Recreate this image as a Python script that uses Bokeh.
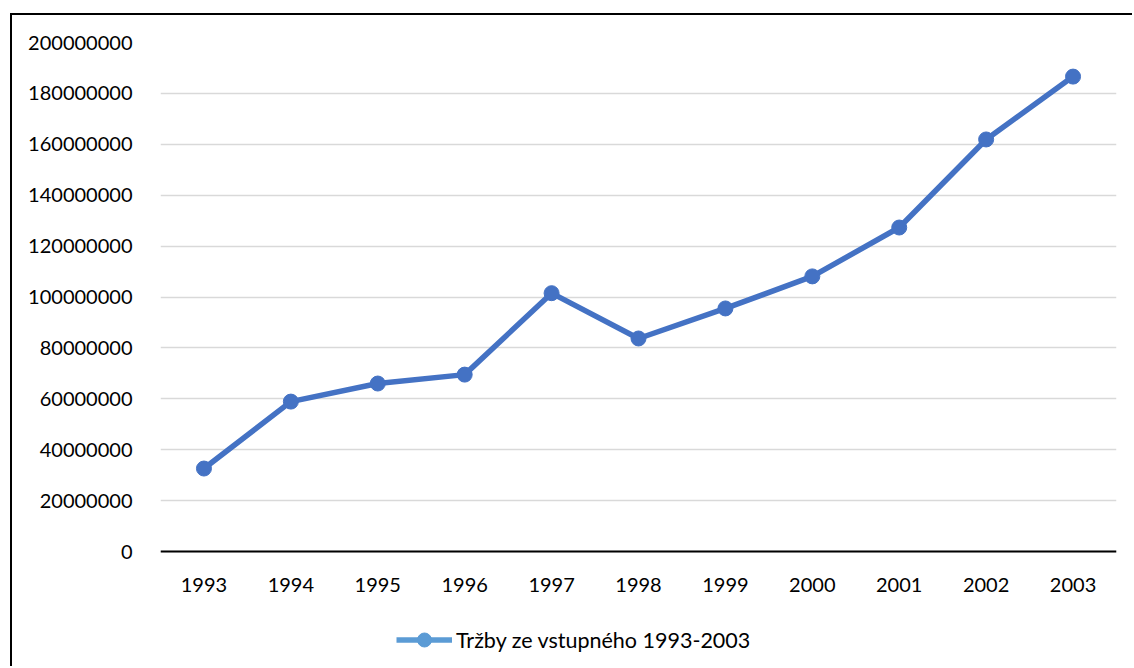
from bokeh.plotting import figure
from bokeh.models import (ColumnDataSource, FactorRange, Range1d, FixedTicker,
                          Legend, LegendItem)
from bokeh.embed import file_html
from bokeh.resources import INLINE

years = ["1993", "1994", "1995", "1996", "1997", "1998", "1999", "2000", "2001", "2002", "2003"]
sales = [32600000, 58900000, 66000000, 69500000, 101500000, 83700000,
         95500000, 108100000, 127300000, 161900000, 186600000]
y_ticks = [0, 20000000, 40000000, 60000000, 80000000, 100000000,
           120000000, 140000000, 160000000, 180000000, 200000000]
y_tick_labels = [str(t) for t in y_ticks]
series_name = "Tržby ze vstupného 1993-2003"

FONT = "Lato"
LINE_COLOR = "#4472C4"
LEGEND_COLOR = "#5B9BD5"

# layout (pixels inside the canvas)
W, H = 1122, 653
TOP, LEFT, RIGHT = 27, 148, 18
PLOT_H = 509                      # height of the 0..max value band
EXTRA = H - TOP - PLOT_H          # space below the zero line (labels + legend)
y_max = y_ticks[-1]
y_min = -y_max * EXTRA / PLOT_H

src = ColumnDataSource(dict(year=years, sales=sales))

p = figure(x_range=FactorRange(*years), y_range=Range1d(y_min, y_max),
           width=W, height=H, output_backend="svg", toolbar_location=None,
           min_border_left=LEFT, min_border_right=RIGHT, min_border_top=TOP,
           min_border_bottom=0)
p.styles = {"margin-left": "10px", "margin-top": "13px",
            "border-left": "2px solid black", "border-top": "2px solid black"}

p.outline_line_color = None
p.background_fill_color = "white"
p.border_fill_color = "white"

p.xgrid.grid_line_color = None
p.ygrid.grid_line_color = "#D9D9D9"
p.ygrid.grid_line_width = 1.5
p.ygrid.ticker = FixedTicker(ticks=y_ticks)

p.yaxis.ticker = FixedTicker(ticks=y_ticks)
p.yaxis.major_label_overrides = {t: l for t, l in zip(y_ticks, y_tick_labels)}
p.yaxis.axis_line_color = None
p.yaxis.major_tick_line_color = None
p.yaxis.minor_tick_line_color = None
p.yaxis.major_label_standoff = 22
p.yaxis.major_label_text_font = FONT
p.yaxis.major_label_text_font_size = "20px"
p.yaxis.major_label_text_color = "#000000"

p.xaxis.fixed_location = 0
p.xaxis.axis_line_color = "#000000"
p.xaxis.axis_line_width = 2
p.xaxis.major_tick_line_color = None
p.xaxis.minor_tick_line_color = None
p.xaxis.major_label_standoff = 20
p.xaxis.major_label_text_font = FONT
p.xaxis.major_label_text_font_size = "20px"
p.xaxis.major_label_text_color = "#000000"

p.line("year", "sales", source=src, line_color=LINE_COLOR, line_width=5.5)
p.scatter("year", "sales", source=src, size=15, fill_color=LINE_COLOR,
          line_color=LINE_COLOR)

# legend proxy glyphs (outside the visible range)
lg_line = p.line([years[0]], [y_min * 10], line_color=LEGEND_COLOR, line_width=5.5)
lg_dot = p.scatter([years[0]], [y_min * 10], size=14, fill_color=LEGEND_COLOR,
                   line_color=LEGEND_COLOR)

legend = Legend(items=[LegendItem(label=series_name, renderers=[lg_line, lg_dot])],
                location=(236, 11), orientation="horizontal",
                glyph_width=56, glyph_height=35, label_standoff=4,
                padding=4, margin=0, spacing=0,
                background_fill_alpha=0, border_line_color=None,
                label_text_font=FONT, label_text_font_size="21.5px",
                label_text_color="#000000")
p.add_layout(legend, "center")

open("out.html", "w").write(file_html(p, INLINE))
